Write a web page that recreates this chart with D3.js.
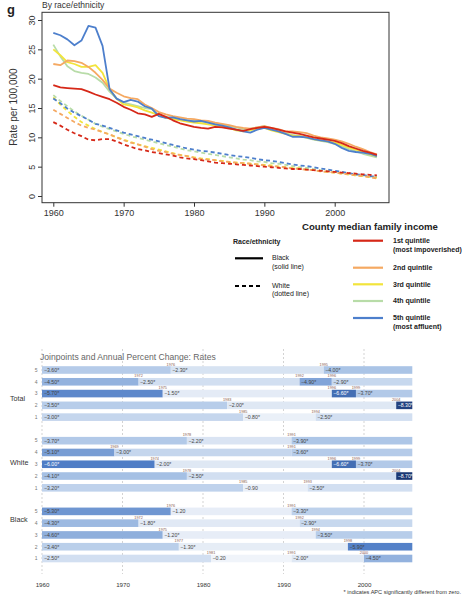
<!DOCTYPE html>
<html><head><meta charset="utf-8">
<script src="https://cdn.jsdelivr.net/npm/d3@7"></script>
<style>body{margin:0;background:#fff}svg{font-family:"Liberation Sans",Arial,Helvetica,sans-serif}</style>
</head><body>
<svg id="c" width="462" height="600"></svg>
<script>
// ---------- data: top chart ----------
const years = d3.range(1960, 2007);
const quintileNames = ["1st quintile", "2nd quintile", "3rd quintile", "4th quintile", "5th quintile"];
const quintileSub = ["(most impoverished)", "", "", "", "(most affluent)"];
const quintileColors = ["#d62818", "#f5a962", "#f2e43c", "#b8dca8", "#4d7fcc"];
// Black (solid)
const blackQ1 = [18.9,18.5,18.4,18.3,18.2,17.8,17.3,16.9,16.5,15.9,15.2,14.7,14.1,13.9,13.5,14.0,13.5,12.9,12.4,12.1,11.8,11.6,11.5,11.8,11.7,11.5,11.3,11.1,11.4,11.6,11.8,11.6,11.3,11.0,10.8,10.6,10.3,10.0,9.8,9.6,9.4,9.0,8.5,8.1,7.7,7.4,7.0];
const blackQ2 = [22.5,22.3,23.1,23.0,22.7,22.0,21.0,19.8,18.3,17.6,17.0,16.7,16.5,15.6,15.0,14.3,13.9,13.6,13.4,13.2,13.1,12.9,12.8,12.5,12.3,12.1,11.8,11.6,11.5,11.7,11.9,11.6,11.4,11.0,11.0,10.9,10.7,10.3,10.0,9.8,9.6,9.3,8.9,8.4,8.0,7.5,7.1];
const blackQ3 = [25.0,24.0,22.8,22.5,22.0,22.0,22.3,21.0,18.2,16.6,15.6,15.4,15.1,14.6,14.2,13.8,13.3,13.1,12.9,12.7,12.5,12.4,12.2,12.0,11.8,11.6,11.2,11.0,11.2,11.5,11.6,11.2,10.9,10.6,10.3,10.2,10.0,9.7,9.5,9.3,9.1,8.7,8.3,7.9,7.5,7.1,6.8];
const blackQ4 = [25.8,23.8,22.1,21.3,21.0,20.8,20.2,19.3,17.8,16.6,15.9,15.6,15.3,15.0,14.8,13.7,13.5,13.3,13.1,12.9,12.8,12.7,12.6,12.4,12.2,11.9,11.7,11.4,11.5,11.7,11.9,11.4,11.0,10.7,10.4,10.2,9.9,9.6,9.4,9.2,8.9,8.5,8.0,7.6,7.2,6.9,6.6];
const blackQ5 = [27.8,27.4,26.7,25.7,26.5,29.0,28.7,25.6,18.2,16.6,16.0,16.4,16.1,15.3,14.9,13.6,13.3,13.4,13.1,12.9,12.7,12.8,12.5,12.2,12.0,11.7,11.3,11.0,10.8,11.3,11.6,11.3,11.0,10.6,10.1,10.1,10.0,9.7,9.5,9.3,8.9,8.2,7.7,7.5,7.4,7.2,6.8];
// White (dashed)
const whiteQ1 = [12.6,12.0,11.3,10.7,10.2,9.6,9.5,9.7,9.7,9.3,8.8,8.4,8.0,7.8,7.5,7.3,7.1,6.9,6.6,6.4,6.3,6.1,5.9,5.7,5.6,5.5,5.4,5.3,5.2,5.1,5.0,4.9,4.8,4.7,4.6,4.6,4.5,4.4,4.3,4.2,4.1,4.0,3.9,3.8,3.7,3.6,3.5];
const whiteQ2 = [14.7,14.0,13.3,12.6,12.0,11.6,11.3,10.9,10.5,10.0,9.5,9.1,8.8,8.4,8.0,7.7,7.5,7.2,7.0,6.8,6.5,6.3,6.2,6.1,5.9,5.8,5.7,5.6,5.5,5.4,5.2,5.1,5.0,4.9,4.7,4.6,4.5,4.4,4.2,4.1,4.0,3.8,3.7,3.5,3.4,3.2,3.0];
const whiteQ3 = [16.8,15.6,14.5,13.5,12.6,12.0,11.4,10.9,10.5,10.0,9.6,9.2,8.8,8.5,8.2,7.9,7.6,7.3,7.0,6.8,6.6,6.4,6.3,6.1,6.0,5.8,5.7,5.6,5.5,5.4,5.3,5.2,5.0,4.9,4.8,4.7,4.5,4.4,4.2,4.1,4.0,3.8,3.7,3.5,3.4,3.2,3.1];
const whiteQ4 = [17.2,16.2,15.3,14.4,13.7,13.0,12.3,11.8,11.4,11.0,10.6,10.2,9.9,9.6,9.3,9.0,8.7,8.4,8.1,7.8,7.6,7.4,7.2,7.0,6.8,6.6,6.4,6.2,6.1,5.9,5.8,5.6,5.5,5.3,5.1,4.9,4.8,4.6,4.4,4.3,4.1,3.9,3.8,3.6,3.5,3.3,3.2];
const whiteQ5 = [16.6,15.8,14.9,14.2,13.6,13.0,12.3,12.0,11.6,11.2,10.8,10.5,10.2,9.9,9.6,9.3,9.0,8.7,8.4,8.1,7.9,7.7,7.6,7.4,7.2,7.0,6.8,6.7,6.5,6.3,6.1,6.0,5.8,5.6,5.4,5.2,5.1,4.9,4.7,4.5,4.3,4.1,3.9,3.7,3.6,3.4,3.3];
const xTicksTop = [1960, 1970, 1980, 1990, 2000];
const yTicksTop = [0, 5, 10, 15, 20, 25, 30];

// ---------- data: joinpoint chart ----------
const jpGroups = ["Total", "White", "Black"];
const jpQuintiles = [5, 4, 3, 2, 1];
const totalJoinpoints = [[1976,1995],[1972,1992,1996],[1975,1996,1999],[1983,2004],[1985,1994]];
const totalAPC = [["−3.60*","−2.30*","−4.00*"],["−4.50*","−2.50*","−4.90*","−2.90*"],["−5.70*","−1.50*","−6.60*","−3.70*"],["−3.50*","−2.00*","−8.30*"],["−3.00*","−0.80*","−2.50*"]];
const whiteJoinpoints = [[1978,1991],[1969,1991],[1974,1996,1999],[1978,2004],[1985,1993]];
const whiteAPC = [["−3.70*","−2.20*","−3.90*"],["−5.10*","−3.00*","−3.60*"],["−6.00*","−2.00*","−6.60*","−3.70*"],["−4.10*","−2.50*","−8.70*"],["−3.20*","−0.90","−2.50*"]];
const blackJoinpoints = [[1976,1991],[1972,1992],[1975,1994],[1977,1998],[1981,1991,2000]];
const blackAPC = [["−5.30*","−1.20","−3.30*"],["−4.30*","−1.80*","−2.90*"],["−4.60*","−1.20*","−3.50*"],["−3.40*","−1.30*","−5.90*"],["−2.50*","−0.20","−2.00*","−4.50*"]];
const jpStart = 1960, jpEnd = 2006;
const xTicksBottom = [1960, 1970, 1980, 1990, 2000];

// ---------- drawing ----------
const svg = d3.select("#c");
const F = '"Liberation Sans",Arial,Helvetica,sans-serif';

// Top chart
const xT = d3.scaleLinear().domain([1960, 2000]).range([53.3, 334.7]);
const yT = d3.scaleLinear().domain([0, 30]).range([196, 20]);
const topG = svg.append("g");
topG.append("text").attr("x", 7).attr("y", 14).attr("font-size", 13).attr("font-weight", "bold").attr("fill", "#222").text("g");
topG.append("text").attr("x", 42).attr("y", 8).attr("font-size", 8.5).attr("fill", "#333").text("By race/ethnicity");
topG.append("rect").attr("x", 42).attr("y", 12.3).attr("width", 347).attr("height", 190.4)
  .attr("fill", "none").attr("stroke", "#333").attr("stroke-width", 1);

const yAx = topG.append("g").attr("transform", "translate(42,0)")
  .call(d3.axisLeft(yT).tickValues(yTicksTop).tickSize(4).tickFormat(d3.format("d")));
yAx.select(".domain").remove();
yAx.selectAll("line").attr("stroke", "#333");
yAx.selectAll(".tick text").remove();
yAx.selectAll(".tick").append("text")
  .attr("transform", "translate(-7,0) rotate(-90)")
  .attr("text-anchor", "middle").attr("font-size", 9).attr("font-family", F).attr("fill", "#333")
  .text(d => d);

const xAx = topG.append("g").attr("transform", "translate(0,202.7)")
  .call(d3.axisBottom(xT).tickValues(xTicksTop).tickSize(4).tickFormat(d3.format("d")));
xAx.select(".domain").remove();
xAx.selectAll("line").attr("stroke", "#333");
xAx.selectAll("text").attr("font-size", 9).attr("font-family", F).attr("fill", "#333").attr("y", 7).attr("dy", "0.71em");

topG.append("text").attr("transform", "translate(17,107) rotate(-90)").attr("text-anchor", "middle")
  .attr("font-size", 10).attr("fill", "#333").text("Rate per 100,000");

const line = d3.line().x((d, i) => xT(years[i])).y(d => yT(d));
const whiteSeries = [whiteQ4, whiteQ3, whiteQ5, whiteQ2, whiteQ1];
const whiteIdx = [3, 2, 4, 1, 0];
whiteSeries.forEach((s, k) => {
  topG.append("path").attr("d", line(s)).attr("fill", "none").attr("stroke", quintileColors[whiteIdx[k]])
    .attr("stroke-width", 1.8).attr("stroke-dasharray", "4,3");
});
const blackSeries = [blackQ4, blackQ3, blackQ2, blackQ5, blackQ1];
const blackIdx = [3, 2, 1, 4, 0];
blackSeries.forEach((s, k) => {
  topG.append("path").attr("d", line(s)).attr("fill", "none").attr("stroke", quintileColors[blackIdx[k]])
    .attr("stroke-width", 1.8).attr("stroke-linejoin", "round");
});

// Legends
const lg = svg.append("g").attr("font-size", 7).attr("fill", "#222");
lg.append("text").attr("x", 233).attr("y", 243.5).attr("font-weight", "bold").text("Race/ethnicity");
lg.append("line").attr("x1", 235).attr("x2", 263).attr("y1", 258.3).attr("y2", 258.3).attr("stroke", "#000").attr("stroke-width", 2.2);
lg.append("text").attr("x", 272).attr("y", 260).text("Black");
lg.append("text").attr("x", 272).attr("y", 268.5).text("(solid line)");
lg.append("line").attr("x1", 235).attr("x2", 263).attr("y1", 286).attr("y2", 286).attr("stroke", "#000").attr("stroke-width", 2.2).attr("stroke-dasharray", "4,3");
lg.append("text").attr("x", 272).attr("y", 287.5).text("White");
lg.append("text").attr("x", 272).attr("y", 296).text("(dotted line)");

lg.append("text").attr("x", 302).attr("y", 230).attr("font-size", 9.6).attr("font-weight", "bold").text("County median family income");
const legY = [240.7, 267.7, 284.3, 301, 318];
quintileNames.forEach((n, i) => {
  lg.append("line").attr("x1", 353).attr("x2", 383).attr("y1", legY[i]).attr("y2", legY[i])
    .attr("stroke", quintileColors[i]).attr("stroke-width", 2.2);
  lg.append("text").attr("x", 393).attr("y", legY[i] + 2.3).attr("font-weight", "bold").text(n);
  if (quintileSub[i]) lg.append("text").attr("x", 393).attr("y", legY[i] + 11.3).attr("font-weight", "bold").text(quintileSub[i]);
});

// Joinpoint chart
const xB = d3.scaleLinear().domain([1960, 2000]).range([42, 364]);
const rowY = d3.scaleLinear().domain([0, 16]).range([370, 558.5]);
const colorAPC = d3.scaleLinear().domain([0, -2, -4, -6, -9])
  .range(["#f2f5fb", "#dfe8f4", "#aac4e6", "#4f7dc6", "#15306b"]);
const bot = svg.append("g");
bot.append("text").attr("x", 40).attr("y", 359.5).attr("font-size", 8.6).attr("fill", "#666").text("Joinpoints and Annual Percent Change: Rates");

// grid
bot.selectAll(".grid").data(xTicksBottom).join("line")
  .attr("x1", d => xB(d)).attr("x2", d => xB(d)).attr("y1", 349).attr("y2", 574)
  .attr("stroke", "#c8c8c8").attr("stroke-width", 0.8).attr("stroke-dasharray", "2,2");

const groupJP = [totalJoinpoints, whiteJoinpoints, blackJoinpoints];
const groupAPC = [totalAPC, whiteAPC, blackAPC];
const groupLabelY = [401, 465, 522];
const parseAPC = s => parseFloat(s.replace("−", "-").replace("*", ""));

jpGroups.forEach((g, gi) => {
  bot.append("text").attr("x", 10).attr("y", groupLabelY[gi]).attr("font-size", 7.2).attr("fill", "#333").text(g);
  jpQuintiles.forEach((q, ri) => {
    const yc = rowY(gi * 6 + ri);
    bot.append("text").attr("x", 37.5).attr("y", yc + 1.8).attr("text-anchor", "end").attr("font-size", 5).attr("fill", "#777").text(q);
    const jps = groupJP[gi][ri];
    const apcs = groupAPC[gi][ri];
    const bounds = [jpStart, ...jps, jpEnd];
    apcs.forEach((a, si) => {
      const v = parseAPC(a);
      bot.append("rect").attr("x", xB(bounds[si])).attr("y", yc - 3.8)
        .attr("width", xB(bounds[si + 1]) - xB(bounds[si])).attr("height", 7.6)
        .attr("fill", colorAPC(v));
    });
    apcs.forEach((a, si) => {
      const v = parseAPC(a);
      bot.append("text").attr("x", xB(bounds[si]) + (si === 0 ? 2 : 1.5)).attr("y", yc + 1.9)
        .attr("font-size", 5.2).attr("fill", v <= -6 ? "#fff" : "#444").text(a);
    });
    jps.forEach(j => {
      bot.append("text").attr("x", xB(j)).attr("y", yc - 4.4).attr("text-anchor", "middle")
        .attr("font-size", 3.8).attr("fill", "#8a5a4a").text(j);
    });
  });
});

const xAxB = bot.append("g").attr("transform", "translate(0,580)")
  .call(d3.axisBottom(xB).tickValues(xTicksBottom).tickSize(0).tickFormat(d3.format("d")));
xAxB.select(".domain").remove();
xAxB.selectAll("text").attr("font-size", 6.2).attr("font-family", F).attr("fill", "#333").attr("y", 3);

bot.append("text").attr("x", 461).attr("y", 594).attr("text-anchor", "end").attr("font-size", 5.6).attr("fill", "#333")
  .text("* indicates APC significantly different from zero.");
</script>
</body></html>
